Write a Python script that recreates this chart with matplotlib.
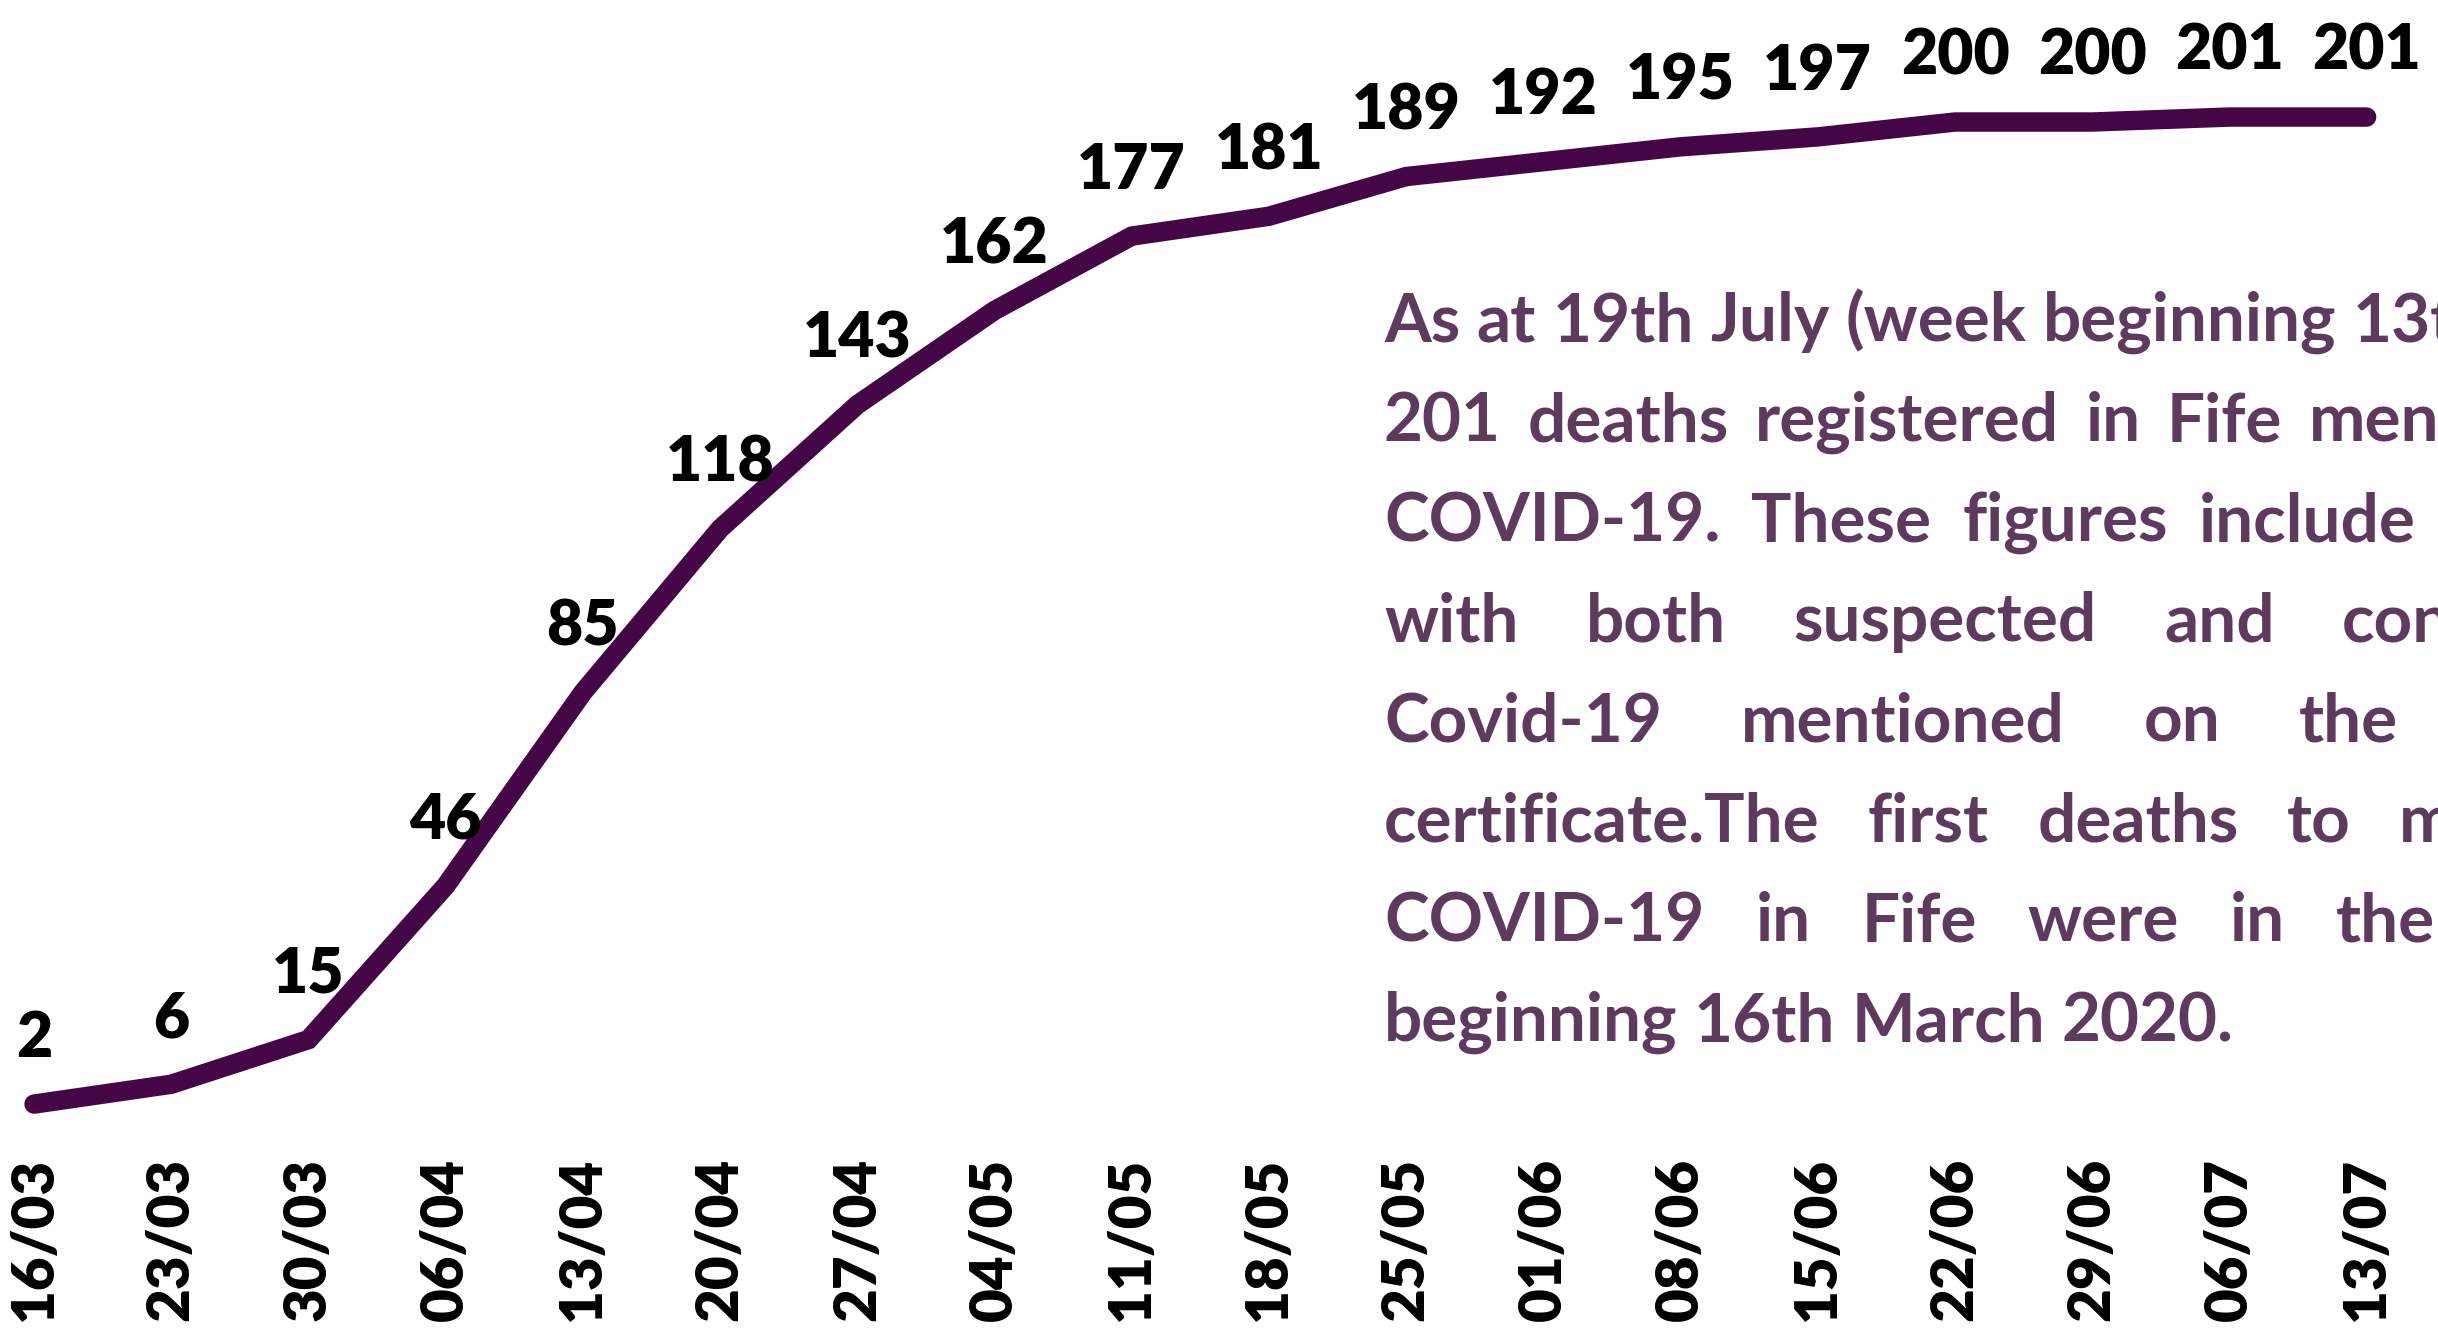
import matplotlib.pyplot as plt

weeks = ["16/03", "23/03", "30/03", "06/04", "13/04", "20/04", "27/04", "04/05", "11/05",
         "18/05", "25/05", "01/06", "08/06", "15/06", "22/06", "29/06", "06/07", "13/07"]
deaths = [2, 6, 15, 46, 85, 118, 143, 162, 177, 181, 189, 192, 195, 197, 200, 200, 201, 201]

# note text, one list per printed line (the right part runs off the picture)
note_lines = [
    "As at 19th July (week beginning 13th July)",
    "201 deaths registered in Fife mentioning",
    "COVID-19. These figures include deaths",
    "with both suspected and confirmed",
    "Covid-19 mentioned on the death",
    "certificate.The first deaths to mention",
    "COVID-19 in Fife were in the week",
    "beginning 16th March 2020.",
]

line_color = "#440646"
note_color = "#5e3a5e"
plt.rcParams['font.family'] = ['Lato', 'DejaVu Sans']

W, H = 2438, 1328
fig = plt.figure(figsize=(W / 100, H / 100), dpi=100)
ax_h = 1140
ax = fig.add_axes([0, 1 - ax_h / H, 1, ax_h / H])

x = list(range(len(deaths)))
ax.plot(x, deaths, color=line_color, lw=14, solid_capstyle='round', solid_joinstyle='miter')
for i, v in zip(x, deaths):
    ax.annotate(str(v), (i, v), xytext=(0, 34), textcoords='offset points',
                ha='center', va='baseline', fontsize=45, fontweight='heavy', color='black')

ax.set_xlim(-0.248, 17.52)
ax.set_ylim(-5.24, 224.6)
ax.set_xticks(x, weeks, rotation=90, fontsize=42, fontweight='heavy')
ax.tick_params(axis='x', length=0, pad=13)
ax.set_yticks([])
for s in ax.spines.values():
    s.set_visible(False)

# justified note block on the right
fig.canvas.draw()
rend = fig.canvas.get_renderer()
style = dict(fontweight='bold', color=note_color, va='baseline', ha='left')


def width(s, size):
    t = fig.text(0, 0, s, fontsize=size, **style)
    w = t.get_window_extent(rend).width
    t.remove()
    return w


size = 40 * 850 / width(note_lines[-1], 40)
space = width("a a", size) - width("aa", size)
left = 1384
words1 = note_lines[0].split()
right = left + sum(width(w, size) for w in words1) + space * (len(words1) - 1)

for k, line in enumerate(note_lines):
    words = line.split()
    widths = [width(w, size) for w in words]
    if k == len(note_lines) - 1:
        gap = space
    else:
        gap = (right - left - sum(widths)) / (len(words) - 1)
    xp = left
    yp = 341 + 100 * k
    for w, wd in zip(words, widths):
        fig.text(xp / W, 1 - yp / H, w, fontsize=size, **style)
        xp += wd + gap

fig.savefig("out.png", dpi=100)
